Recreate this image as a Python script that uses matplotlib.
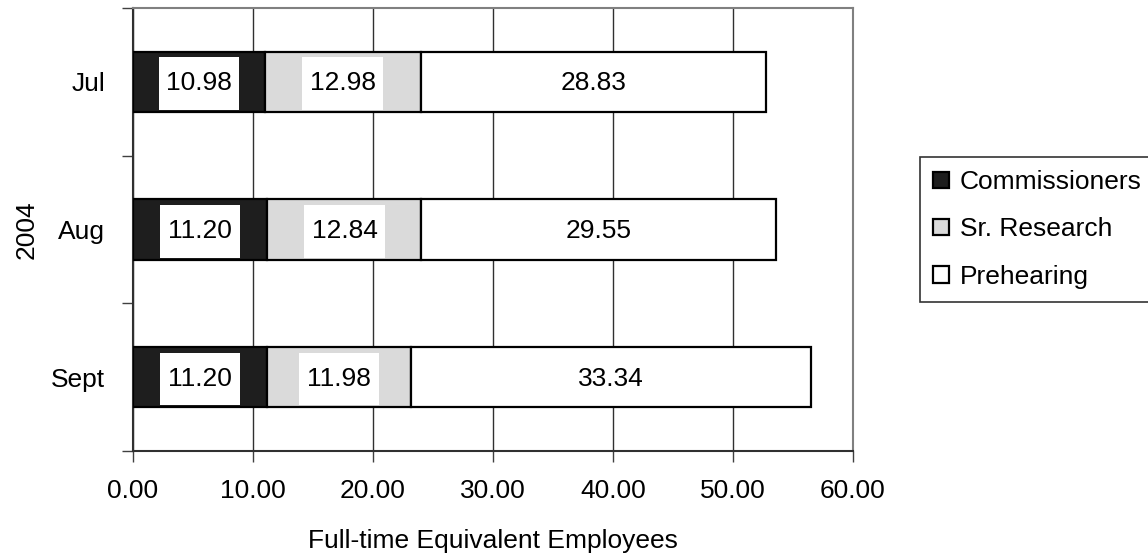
import numpy as np
import matplotlib
matplotlib.use("Agg")
import matplotlib.pyplot as plt
from matplotlib.patches import Rectangle

plt.rcParams["font.family"] = ["Liberation Sans", "DejaVu Sans"]

# datos
months = ["Jul", "Aug", "Sept"]
commissioners = [10.98, 11.20, 11.20]
sr_research = [12.98, 12.84, 11.98]
prehearing = [28.83, 29.55, 33.34]
series_names = ["Commissioners", "Sr. Research", "Prehearing"]
series_colors = ["#1e1e1e", "#dadada", "#ffffff"]
x_ticks = [0, 10, 20, 30, 40, 50, 60]

fig = plt.figure(figsize=(11.48, 5.58), dpi=100)
ax = fig.add_axes([133 / 1148, 107 / 558, 720 / 1148, 443 / 558])

# Jul arriba, Sept abajo
ypos = np.arange(len(months))[::-1]
bar_h = 0.41
left = np.zeros(len(months))
handles = []
for vals, name, col in zip([commissioners, sr_research, prehearing], series_names, series_colors):
    vals = np.array(vals)
    b = ax.barh(ypos, vals, left=left, height=bar_h, color=col, edgecolor="black",
                linewidth=1.6, zorder=3, label=name)
    handles.append(b)
    # etiquetas en caja blanca
    for y, l, v in zip(ypos, left, vals):
        cx = l + v / 2
        ax.add_patch(Rectangle((cx - 3.35, y - bar_h / 2 + 0.015), 6.7, 0.355,
                               facecolor="white", edgecolor="none", zorder=4))
        ax.text(cx, y - 0.01, f"{v:.2f}", ha="center", va="center", fontsize=19, zorder=5)
    left = left + vals

ax.set_xlim(0, 60)
ax.set_ylim(-0.5, len(months) - 0.5)
ax.set_xticks(x_ticks)
ax.set_xticklabels([f"{t:.2f}" for t in x_ticks], fontsize=19)
ax.set_yticks(ypos)
ax.set_yticklabels(months, fontsize=19)
ax.set_yticks(np.arange(-0.5, len(months)), minor=True)
ax.tick_params(axis="y", which="major", length=0, pad=20)
ax.tick_params(axis="y", which="minor", length=8, width=1, color="#404040")
ax.tick_params(axis="x", length=8, width=1, color="#404040", pad=12)

ax.grid(axis="x", color="#303030", linewidth=1, zorder=0)
ax.set_axisbelow(True)
for s in ["top", "right"]:
    ax.spines[s].set_color("#808080")
    ax.spines[s].set_linewidth(1.5)
for s in ["left", "bottom"]:
    ax.spines[s].set_color("#303030")
    ax.spines[s].set_linewidth(1.5)

ax.set_xlabel("Full-time Equivalent Employees", fontsize=19, labelpad=19)
ax.set_ylabel("2004", fontsize=19, labelpad=9)

leg = fig.legend(handles=handles, loc="upper left", bbox_to_anchor=(920 / 1148, 1 - 157 / 558),
                 fontsize=19, frameon=True, fancybox=False, handlelength=0.6, handleheight=0.6,
                 handletextpad=0.4, labelspacing=0.88, borderpad=0.5, borderaxespad=0)
leg.get_frame().set_edgecolor("black")
leg.get_frame().set_linewidth(1.2)
for h in leg.legend_handles:
    h.set_linewidth(1.6)

fig.savefig("out.png", dpi=100)
